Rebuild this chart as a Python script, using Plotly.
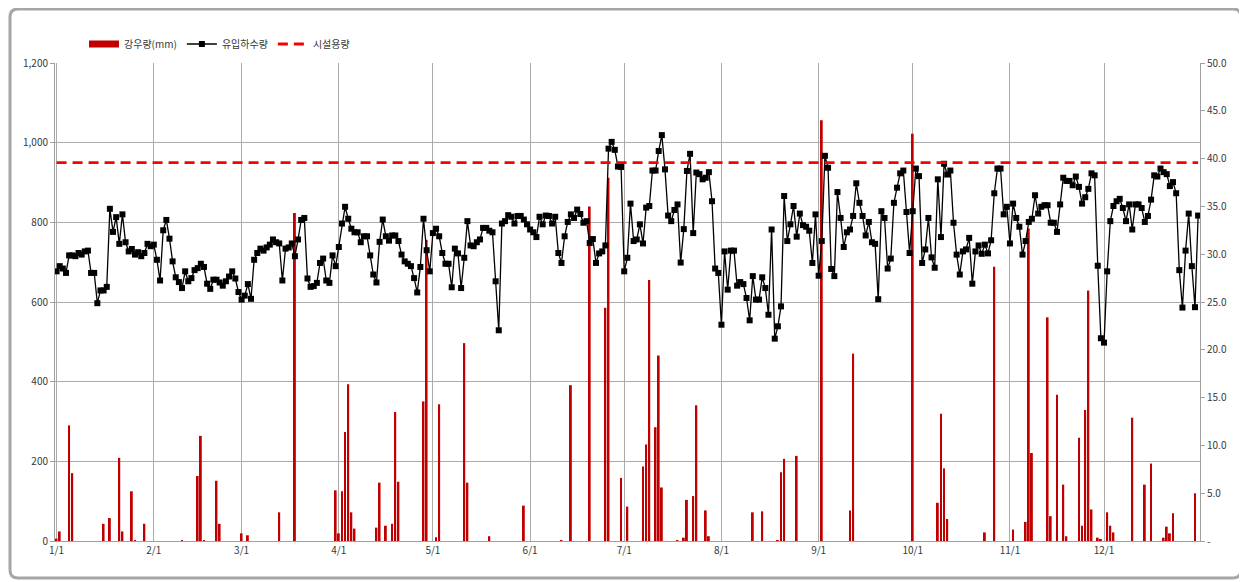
import plotly.graph_objects as go

# ---- data ----
month_labels = ["1/1", "2/1", "3/1", "4/1", "5/1", "6/1", "7/1", "8/1", "9/1", "10/1", "11/1", "12/1"]
month_start_days = [0, 31, 59, 90, 120, 151, 181, 212, 243, 273, 304, 334]

inflow_jan = [677, 690, 684, 673, 717, 717, 715, 723, 719, 727, 729, 673, 673, 597, 629, 629, 638, 834, 776, 813,
              746, 820, 750, 727, 733, 719, 725, 715, 723, 746, 740]
inflow_feb = [744, 706, 654, 780, 806, 759, 702, 662, 650, 635, 677, 652, 660, 680, 685, 696, 688, 646, 633, 656,
              656, 649, 641, 652, 664, 677, 659, 625]
inflow_mar = [606, 616, 645, 608, 706, 723, 734, 729, 737, 744, 757, 750, 747, 654, 734, 737, 747, 715, 757, 806,
              811, 659, 638, 640, 648, 698, 709, 654, 648, 717, 690]
inflow_apr = [738, 797, 839, 809, 784, 775, 775, 750, 765, 765, 717, 669, 649, 751, 807, 765, 754, 767, 767, 753,
              719, 702, 696, 690, 660, 624, 688, 809, 730, 677]
inflow_may = [773, 784, 765, 723, 696, 696, 637, 734, 722, 635, 711, 803, 742, 740, 750, 757, 786, 786, 779, 775,
              652, 529, 797, 803, 818, 814, 797, 816, 816, 807, 795]
inflow_jun = [782, 775, 763, 814, 795, 817, 816, 797, 814, 723, 698, 765, 801, 820, 811, 832, 821, 799, 803, 748,
              758, 698, 722, 727, 742, 985, 1002, 982, 940, 939]
inflow_jul = [677, 711, 847, 753, 757, 795, 747, 837, 841, 930, 930, 979, 1019, 933, 817, 803, 831, 845, 699, 783,
              929, 972, 773, 925, 921, 908, 912, 926, 853, 684, 673]
inflow_aug = [543, 727, 631, 729, 729, 641, 650, 645, 610, 554, 665, 606, 606, 662, 635, 568, 782, 508, 539, 589,
              866, 753, 795, 841, 764, 822, 793, 789, 779, 698, 820]
inflow_sep = [666, 753, 967, 937, 683, 665, 876, 811, 738, 775, 782, 816, 898, 849, 816, 767, 801, 750, 746, 607,
              828, 811, 684, 709, 849, 887, 923, 930, 826, 723]
inflow_oct = [828, 935, 916, 698, 732, 811, 712, 686, 908, 763, 947, 920, 930, 799, 719, 669, 727, 732, 761, 646,
              727, 742, 721, 744, 722, 755, 873, 935, 935, 820, 839]
inflow_nov = [747, 847, 811, 789, 719, 753, 801, 809, 868, 822, 839, 843, 843, 799, 799, 776, 845, 912, 904, 904,
              893, 915, 889, 847, 863, 884, 923, 918, 691, 509]
inflow_dec = [498, 677, 803, 841, 853, 859, 836, 803, 845, 782, 845, 845, 836, 801, 816, 857, 918, 915, 935, 926,
              921, 891, 901, 873, 680, 586, 729, 822, 690, 587, 817]

rain_days = [0, 1, 4, 5, 15, 17, 20, 21, 24, 25, 28, 40, 45, 46, 47, 51, 52, 59, 61, 71, 76, 89, 90, 91, 92, 93,
             94, 95, 102, 103, 105, 107, 108, 109, 117, 118, 121, 122, 130, 131, 138, 149, 161, 164, 170, 175, 176,
             180, 182, 187, 188, 189, 191, 192, 193, 198, 200, 201, 203, 204, 207, 208, 222, 225, 230, 231, 232,
             236, 244, 253, 254, 273, 281, 282, 283, 284, 296, 299, 305, 309, 310, 311, 316, 317, 319, 321, 322,
             326, 327, 328, 329, 330, 332, 333, 335, 336, 337, 343, 347, 349, 353, 354, 355, 356, 363]
rain_mm = [0.25, 1.0, 12.1, 7.1, 1.8, 2.4, 8.7, 1.0, 5.2, 0.1, 1.8, 0.1, 6.8, 11.0, 0.1, 6.3, 1.8, 0.8, 0.6, 3.0,
           34.3, 5.3, 0.8, 5.2, 11.4, 16.4, 3.0, 1.3, 1.4, 6.1, 1.6, 1.8, 13.5, 6.2, 14.6, 31.5, 0.4, 14.3, 20.7,
           6.1, 0.5, 3.7, 0.1, 16.3, 35.0, 24.4, 38.0, 6.6, 3.6, 7.8, 10.1, 27.3, 11.9, 19.4, 5.6, 0.1, 0.35, 4.3,
           4.7, 14.2, 3.2, 0.5, 3.0, 3.1, 0.1, 7.2, 8.6, 8.9, 44.0, 3.2, 19.6, 42.6, 4.0, 13.3, 7.6, 2.3, 0.9,
           28.7, 1.2, 2.0, 32.7, 9.2, 23.4, 2.6, 15.3, 5.9, 0.5, 10.8, 1.6, 13.7, 26.2, 3.3, 0.35, 0.2, 3.0, 1.6,
           0.9, 12.9, 5.9, 8.1, 0.35, 1.5, 0.8, 2.9, 5.0]

capacity = 950

left_ticks = [0, 200, 400, 600, 800, 1000, 1200]
right_ticks = [0, 5, 10, 15, 20, 25, 30, 35, 40, 45, 50]
right_tick_text = ["-", "5.0", "10.0", "15.0", "20.0", "25.0", "30.0", "35.0", "40.0", "45.0", "50.0"]

# ---- build series ----
inflow = (inflow_jan + inflow_feb + inflow_mar + inflow_apr + inflow_may + inflow_jun +
          inflow_jul + inflow_aug + inflow_sep + inflow_oct + inflow_nov + inflow_dec)
days = list(range(len(inflow)))
rain = [0.0] * len(days)
for d, v in zip(rain_days, rain_mm):
    rain[d] = v

FONT = "Noto Sans CJK KR"
GRID = "#ababab"
AXIS = "#a0a0a0"
TXT = "#383838"
RAIN_COLOR = "#C00000"

fig = go.Figure()
# legend entry for rainfall (wide swatch like the original)
fig.add_trace(go.Scatter(
    x=[None], y=[None], name="강우량(mm)", yaxis="y", mode="lines",
    line=dict(color=RAIN_COLOR, width=7), legendgroup="rain", hoverinfo="skip",
))
fig.add_trace(go.Bar(
    x=days, y=rain, name="강우량(mm)", yaxis="y", legendgroup="rain", showlegend=False,
    marker=dict(color=RAIN_COLOR, line=dict(width=0)), width=0.6,
))
fig.add_trace(go.Scatter(
    x=days, y=inflow, name="유입하수량", yaxis="y2", mode="lines+markers",
    line=dict(color="black", width=1.3),
    marker=dict(symbol="square", size=6, color="black"),
))
fig.add_trace(go.Scatter(
    x=days, y=[capacity] * len(days), name="시설용량", yaxis="y2", mode="lines",
    line=dict(color="#FF0000", width=2.8, dash="10px,6px"),
))

# figure is placed 8px in from page edge (default body margin)
OFF = 8
W, H = 1247 - OFF, 582 - OFF
ml, mr, mt, mb = 55 - OFF, W - (1200 - OFF), 63 - OFF, H - (541 - OFF)
pw, ph = W - ml - mr, H - mt - mb


def px(x):
    return (x - OFF - ml) / pw


def py(y):
    return (H - mb - (y - OFF)) / ph


# outer rounded frame, page coordinates
x0, x1, y0, y1, r = 10, 1241, 9, 578, 8
path = (f"M {px(x0 + r)},{py(y0)} L {px(x1 - r)},{py(y0)} Q {px(x1)},{py(y0)} {px(x1)},{py(y0 + r)} "
        f"L {px(x1)},{py(y1 - r)} Q {px(x1)},{py(y1)} {px(x1 - r)},{py(y1)} "
        f"L {px(x0 + r)},{py(y1)} Q {px(x0)},{py(y1)} {px(x0)},{py(y1 - r)} "
        f"L {px(x0)},{py(y0 + r)} Q {px(x0)},{py(y0)} {px(x0 + r)},{py(y0)} Z")

fig.update_layout(
    width=W, height=H,
    margin=dict(l=ml, r=mr, t=mt, b=mb),
    paper_bgcolor="white", plot_bgcolor="white",
    font=dict(family=FONT, size=10, color=TXT),
    showlegend=True,
    legend=dict(orientation="h", x=px(84), y=py(44), xanchor="left", yanchor="middle",
                font=dict(family=FONT, size=10, color=TXT), bgcolor="rgba(0,0,0,0)",
                itemwidth=30, tracegroupgap=0),
    xaxis=dict(range=[-0.5, 364.6], tickvals=month_start_days, ticktext=month_labels,
               showgrid=True, gridcolor=GRID, gridwidth=1, zeroline=False,
               showline=True, linecolor=AXIS, ticks="", tickfont=dict(size=10, color=TXT)),
    yaxis=dict(range=[0, 50], side="right", tickvals=right_ticks, ticktext=right_tick_text,
               showgrid=False, zeroline=False, showline=True, linecolor=AXIS,
               ticks="outside", ticklen=4, tickcolor=AXIS, tickfont=dict(size=10, color=TXT)),
    yaxis2=dict(range=[0, 1200], overlaying="y", side="left", tickvals=left_ticks,
                tickformat=",", showgrid=True, gridcolor=GRID, gridwidth=1, zeroline=False,
                showline=True, linecolor=AXIS, ticks="outside", ticklen=4, tickcolor=AXIS,
                tickfont=dict(size=10, color=TXT)),
    shapes=[dict(type="path", path=path, xref="paper", yref="paper",
                 line=dict(color="#a6a6a6", width=3), fillcolor="rgba(0,0,0,0)", layer="below")],
)

fig.write_html("out.html")
